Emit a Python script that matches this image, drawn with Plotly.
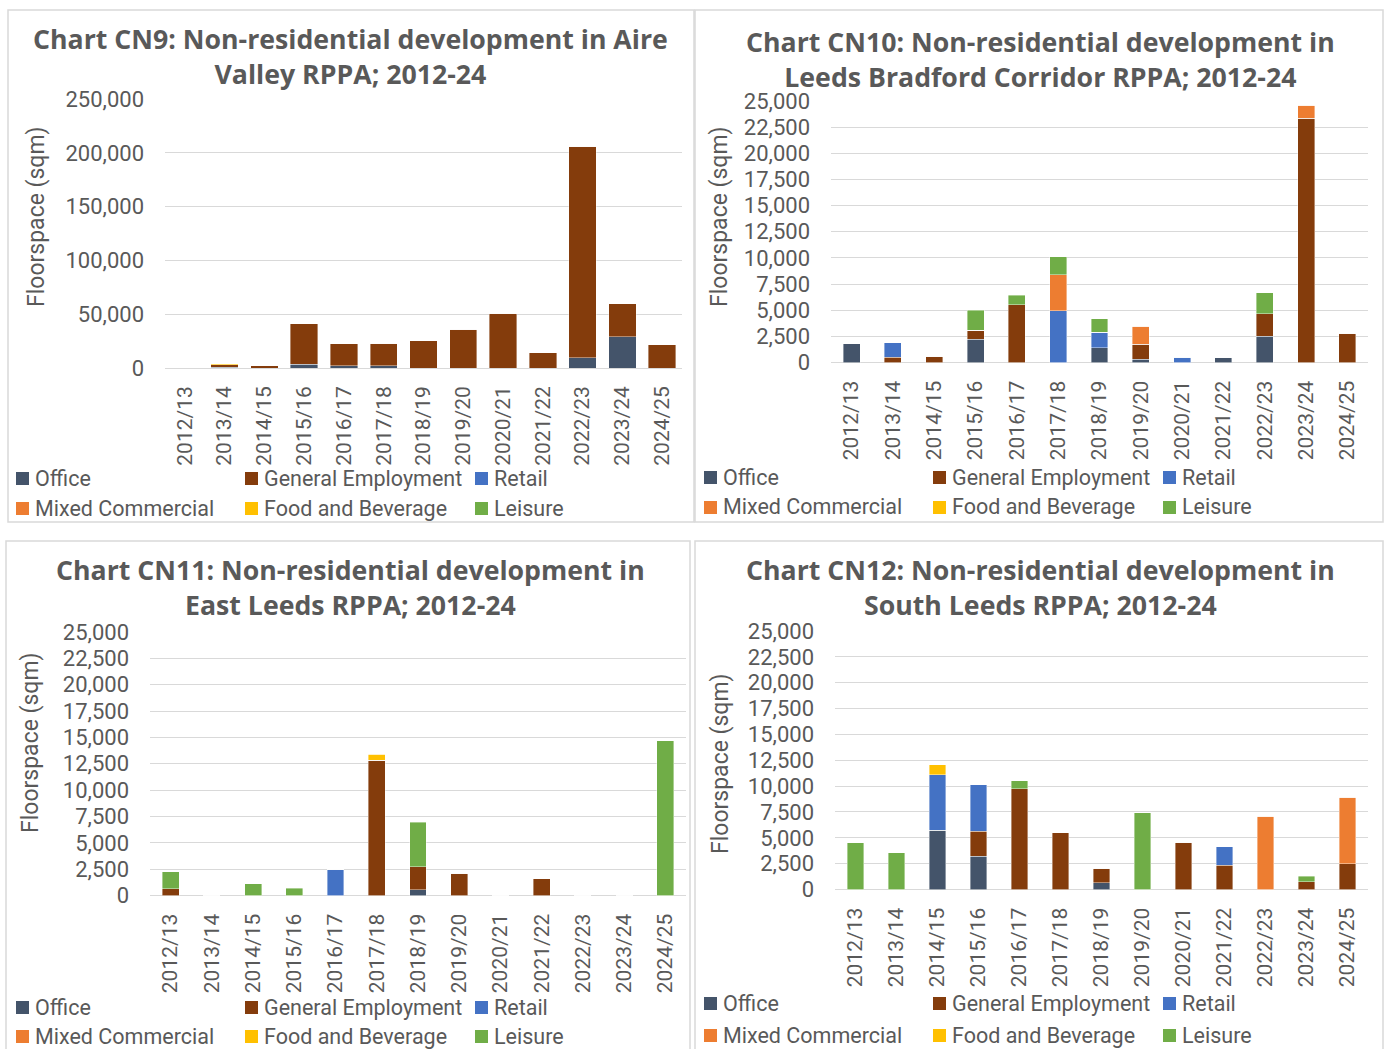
import plotly.graph_objects as go

W, H = 1386, 1049

years = ["2012/13", "2013/14", "2014/15", "2015/16", "2016/17", "2017/18", "2018/19",
         "2019/20", "2020/21", "2021/22", "2022/23", "2023/24", "2024/25"]

series_names = ["Office", "General Employment", "Retail", "Mixed Commercial",
                "Food and Beverage", "Leisure"]
series_colors = ["#44546A", "#843C0C", "#4472C4", "#ED7D31", "#FFC000", "#70AD47"]

# CN9 Aire Valley
cn9_office = [0, 500, 0, 3400, 2200, 2200, 0, 0, 0, 0, 9300, 28900, 0]
cn9_general = [0, 2500, 2200, 37900, 20200, 20800, 25500, 36000, 50900, 14300, 197000, 31000, 21400]
cn9_retail = [0] * 13
cn9_mixed = [0] * 13
cn9_food = [0, 1000, 0, 0, 0, 0, 0, 0, 0, 0, 0, 0, 0]
cn9_leisure = [0, 0, 0, 0, 0, 0, 0, 600, 0, 0, 0, 0, 0]

# CN10 Leeds Bradford Corridor
cn10_office = [1800, 0, 0, 2200, 0, 0, 1400, 300, 0, 500, 2500, 0, 0]
cn10_general = [0, 500, 600, 900, 5500, 0, 0, 1450, 0, 0, 2150, 23350, 2800]
cn10_retail = [0, 1400, 0, 0, 0, 4950, 1500, 0, 480, 0, 0, 0, 0]
cn10_mixed = [0, 0, 0, 0, 0, 3450, 0, 1700, 0, 0, 0, 1250, 0]
cn10_food = [0] * 13
cn10_leisure = [0, 0, 0, 1900, 950, 1700, 1300, 0, 0, 0, 2000, 0, 0]

# CN11 East Leeds
cn11_office = [0, 0, 0, 0, 0, 0, 550, 0, 0, 0, 0, 0, 0]
cn11_general = [650, 0, 0, 0, 0, 12850, 2200, 2100, 0, 1600, 0, 0, 0]
cn11_retail = [0, 0, 0, 0, 2450, 0, 0, 0, 0, 0, 0, 0, 0]
cn11_mixed = [0] * 13
cn11_food = [0, 0, 0, 0, 0, 550, 0, 0, 0, 0, 0, 0, 0]
cn11_leisure = [1600, 0, 1100, 700, 0, 0, 4200, 0, 0, 0, 0, 0, 14700]

# CN12 South Leeds
cn12_office = [0, 0, 5750, 3200, 0, 0, 650, 0, 0, 0, 0, 0, 0]
cn12_general = [0, 0, 0, 2450, 9750, 5500, 1400, 0, 4550, 2350, 0, 750, 2500]
cn12_retail = [0, 0, 5350, 4500, 0, 0, 0, 0, 0, 1800, 0, 0, 0]
cn12_mixed = [0, 0, 0, 0, 0, 0, 0, 0, 0, 0, 7100, 0, 6400]
cn12_food = [0, 0, 950, 0, 0, 0, 0, 0, 0, 0, 0, 0, 0]
cn12_leisure = [4500, 3550, 0, 0, 750, 0, 0, 7400, 0, 0, 0, 550, 0]

titles = [
    "Chart CN9: Non-residential development in Aire<br>Valley RPPA; 2012-24",
    "Chart CN10: Non-residential development in<br>Leeds Bradford Corridor RPPA; 2012-24",
    "Chart CN11: Non-residential development in<br>East Leeds RPPA; 2012-24",
    "Chart CN12: Non-residential development in<br>South Leeds RPPA; 2012-24",
]

panels = [
    [cn9_office, cn9_general, cn9_retail, cn9_mixed, cn9_food, cn9_leisure],
    [cn10_office, cn10_general, cn10_retail, cn10_mixed, cn10_food, cn10_leisure],
    [cn11_office, cn11_general, cn11_retail, cn11_mixed, cn11_food, cn11_leisure],
    [cn12_office, cn12_general, cn12_retail, cn12_mixed, cn12_food, cn12_leisure],
]

# pixel layout of each panel
layout_px = [
    dict(box=(8, 10, 694, 522), xd=(165, 682), yd=(99, 368), ymax=250000, dtick=50000,
         bw=0.69, title=(351, 56.5), ytitle=(36, 217), leg=(16, 478, 508)),
    dict(box=(695, 10, 1383, 522), xd=(831, 1368), yd=(101, 362.5), ymax=25000, dtick=2500,
         bw=0.41, title=(1040, 59), ytitle=(719, 217), leg=(704, 477, 507)),
    dict(box=(6, 541, 690, 1060), xd=(150, 686), yd=(632, 895.5), ymax=25000, dtick=2500,
         bw=0.41, title=(350, 587), ytitle=(30, 743), leg=(16, 1007, 1036)),
    dict(box=(695, 541, 1383, 1060), xd=(835, 1368), yd=(631, 889.5), ymax=25000, dtick=2500,
         bw=0.40, title=(1040, 587), ytitle=(720, 763), leg=(704, 1003, 1035)),
]

FONT = "Roboto"
TITLE_FONT = "Open Sans"
GREY = "#595959"

def px_x(v):
    return v / W

def px_y(v):
    return 1 - v / H

fig = go.Figure()
shapes = []
annotations = []

for i, (vals, lp) in enumerate(zip(panels, layout_px)):
    n = "" if i == 0 else str(i + 1)
    for name, color, ys in zip(series_names, series_colors, vals):
        fig.add_trace(go.Bar(
            x=years, y=ys, name=name, width=lp["bw"],
            marker=dict(color=color, line=dict(color="rgba(255,255,255,0.5)", width=0.8)),
            xaxis="x" + n, yaxis="y" + n, showlegend=False,
        ))
    fig.update_layout(**{
        "xaxis" + n: dict(
            domain=[px_x(lp["xd"][0]), px_x(lp["xd"][1])], anchor="y" + n,
            type="category", tickangle=-90, showgrid=False, showline=False,
            ticks="", ticklabelstandoff=13, automargin=False,
            tickfont=dict(family=FONT, size=21, color=GREY),
        ),
        "yaxis" + n: dict(
            domain=[px_y(lp["yd"][1]), px_y(lp["yd"][0])], anchor="x" + n,
            range=[0, lp["ymax"]], dtick=lp["dtick"], tickformat=",",
            showgrid=True, gridcolor="#D9D9D9", gridwidth=1.3,
            zeroline=True, zerolinecolor="#D9D9D9", zerolinewidth=1.3,
            showline=False, ticks="", ticklabelstandoff=20, automargin=False,
            tickfont=dict(family=FONT, size=22, color=GREY),
        ),
    })
    x0, y0, x1, y1 = lp["box"]
    shapes.append(dict(type="rect", xref="paper", yref="paper",
                       x0=px_x(x0), x1=px_x(x1), y0=px_y(y1), y1=px_y(y0),
                       line=dict(color="#D9D9D9", width=1.5), fillcolor="rgba(0,0,0,0)",
                       layer="below"))
    annotations.append(dict(
        text="<b>" + titles[i] + "</b>", xref="paper", yref="paper",
        x=px_x(lp["title"][0]), y=px_y(lp["title"][1]), xanchor="center", yanchor="middle",
        showarrow=False, align="center",
        font=dict(family=TITLE_FONT, size=26.7, color=GREY),
    ))
    annotations.append(dict(
        text="Floorspace (sqm)", xref="paper", yref="paper", textangle=-90,
        x=px_x(lp["ytitle"][0]), y=px_y(lp["ytitle"][1]), xanchor="center", yanchor="middle",
        showarrow=False, font=dict(family=FONT, size=23, color=GREY),
    ))
    # legend: three columns, two rows
    lx, r1, r2 = lp["leg"]
    col_x = [lx, lx + 229, lx + 459]
    for k, (name, color) in enumerate(zip(series_names, series_colors)):
        cx = col_x[k % 3]
        cy = r1 if k < 3 else r2
        shapes.append(dict(type="rect", xref="paper", yref="paper",
                           x0=px_x(cx), x1=px_x(cx + 13), y0=px_y(cy + 7), y1=px_y(cy - 6),
                           line=dict(width=0), fillcolor=color))
        annotations.append(dict(
            text=name, xref="paper", yref="paper", x=px_x(cx + 17), y=px_y(cy),
            xanchor="left", yanchor="middle", showarrow=False,
            font=dict(family=FONT, size=21.5, color=GREY),
        ))

fig.update_layout(
    width=W, height=H, margin=dict(l=0, r=0, t=0, b=0, autoexpand=False),
    paper_bgcolor="white", plot_bgcolor="white",
    barmode="stack", showlegend=False,
    shapes=shapes, annotations=annotations,
)

fig.write_html("out.html")
